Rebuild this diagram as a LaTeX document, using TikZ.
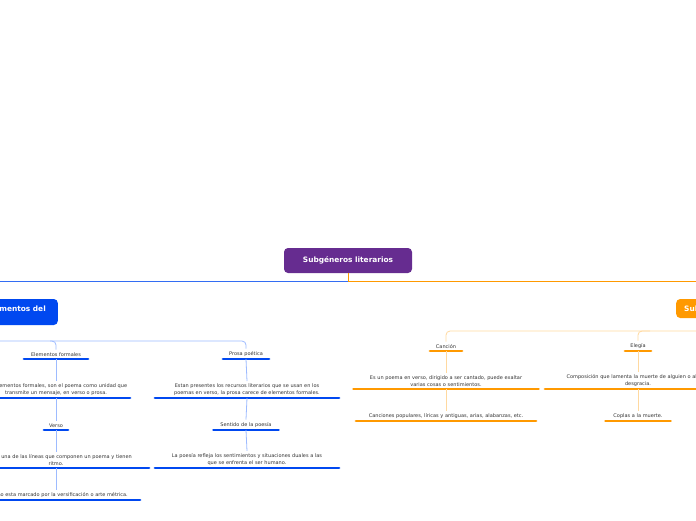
\documentclass[tikz,border=0pt]{standalone}
\usepackage{fontspec}
\setmainfont{DejaVu Sans}
\usetikzlibrary{positioning}
\definecolor{rootc}{HTML}{662C90}
\definecolor{bluec}{HTML}{0048F0}
\definecolor{lblue}{HTML}{9DBBFF}
\definecolor{orangec}{HTML}{FF9900}
\definecolor{lorange}{HTML}{FFD9A0}
\definecolor{txt}{HTML}{333333}
\begin{document}
\begin{tikzpicture}[
  x=1pt, y=-1pt,
  leaf/.style={anchor=south, inner xsep=0pt, inner ysep=2.5pt, align=center,
    font=\fontsize{5}{6.6}\selectfont, text=txt},
  bline/.style={bluec, line width=2.2pt, line cap=round},
  oline/.style={orangec, line width=2.2pt, line cap=round},
  bconn/.style={lblue, line width=0.8pt},
  oconn/.style={lorange, line width=0.8pt},
  topic/.style={rounded corners=4pt, text=white, font=\bfseries\fontsize{7.4}{8}\selectfont}
]
\useasboundingbox (0,0) rectangle (696,520);
\clip (0,0) rectangle (696,520);

% main topic
\node[topic, fill=rootc, minimum width=128pt, minimum height=25pt] (root) at (348,260.5) {Subgéneros literarios};
\coordinate (hub) at (348,281);
\draw[orangec, line width=0.9pt] (root.south) -- (hub) -- (696,281);
\draw[bluec!80, line width=0.9pt] (hub) -- (0,281);

% subtopics
\node[topic, fill=bluec, minimum width=100pt, minimum height=26pt, anchor=east] (elem) at (58,312) {};
\node[topic, anchor=east, inner sep=0pt] at (46,309) {Elementos del};
\node[topic, fill=orangec, minimum width=60pt, minimum height=19pt, anchor=west] (sub) at (676,308.5) {};
\node[topic, anchor=west, inner sep=0pt] at (684,309) {Sub};

% blue branch
\node[leaf, text width=64pt] (form) at (56,359) {Elementos formales};
\node[leaf, text width=148pt] (formt) at (56,398) {Los elementos formales, son el poema como unidad que\\transmite un mensaje, en verso o prosa.};
\node[leaf, text width=24pt] (verso) at (56,430) {Verso};
\node[leaf, text width=186pt] (versot) at (56,468) {Es cada una de las líneas que componen un poema y tienen\\ritmo.};
\node[leaf, text width=168pt] (ritmo) at (56,500) {El ritmo esta marcado por la versificación o arte métrica.};
\node[leaf, text width=46pt] (prosa) at (246,359) {Prosa poética};
\node[leaf, text width=184pt] (prosat) at (247,398) {Estan presentes los recursos literarios que se usan en los\\poemas en verso, la prosa carece de elementos formales.};
\node[leaf, text width=65pt] (sent) at (246,430) {Sentido de la poesía};
\node[leaf, text width=184pt] (sentt) at (247,468) {La poesía refleja los sentimientos y situaciones duales a las\\que se enfrenta el ser humano.};

% orange branch
\node[leaf, text width=32pt] (canc) at (446,351) {Canción};
\node[leaf, text width=185pt] (canct) at (446,389) {Es un poema en verso, dirigido a ser cantado, puede exaltar\\varias cosas o sentimientos.};
\node[leaf, text width=180pt] (cancp) at (446,421) {Canciones populares, líricas y antiguas, arias, alabanzas, etc.};
\node[leaf, text width=26pt] (eleg) at (638,351) {Elegía};
\node[leaf, text width=186pt] (elegt) at (638,389) {Composición que lamenta la muerte de alguien o alguna\\desgracia.};
\node[leaf, text width=65pt] (copl) at (638,421) {Coplas a la muerte.};

% underlines
\foreach \n in {form,formt,verso,versot,ritmo,prosa,prosat,sent,sentt}
  \draw[bline] (\n.south west) -- (\n.south east);
\foreach \n in {canc,canct,cancp,eleg,elegt,copl}
  \draw[oline] (\n.south west) -- (\n.south east);

% connectors
\draw[bconn, rounded corners=4pt] (0,341) -- (246,341) -- (prosa.north);
\draw[bconn, rounded corners=4pt] (50,341) -- (56,341) -- (form.north);
\draw[bconn] (form.south) -- (formt.north);
\draw[bconn] (formt.south) -- (verso.north);
\draw[bconn] (verso.south) -- (versot.north);
\draw[bconn] (versot.south) -- (ritmo.north);
\draw[bconn] (prosa.south) -- (prosat.north);
\draw[bconn] (prosat.south) -- (sent.north);
\draw[bconn] (sent.south) -- (sentt.north);
\draw[oconn, rounded corners=4pt] (696,331) -- (446,331) -- (canc.north);
\draw[oconn, rounded corners=4pt] (650,331) -- (638,331) -- (eleg.north);
\draw[oconn] (canc.south) -- (canct.north);
\draw[oconn] (canct.south) -- (cancp.north);
\draw[oconn] (eleg.south) -- (elegt.north);
\draw[oconn] (elegt.south) -- (copl.north);
\end{tikzpicture}
\end{document}
